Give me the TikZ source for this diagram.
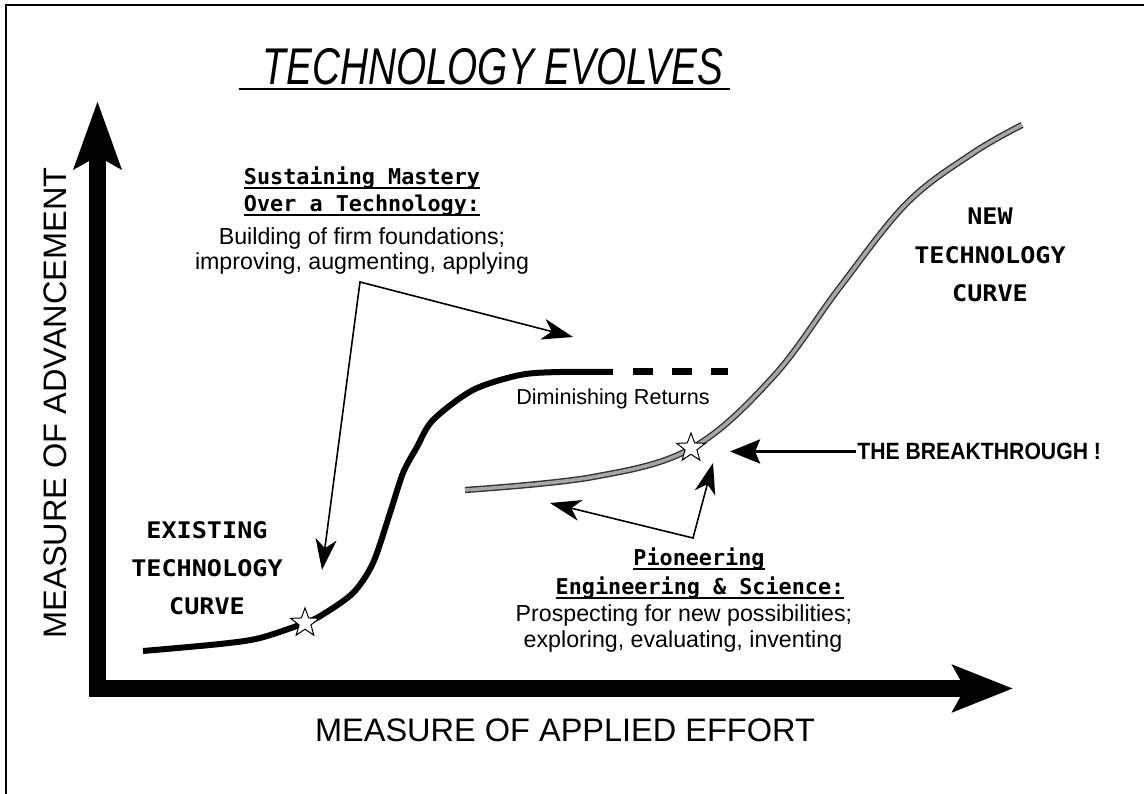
\documentclass[tikz,border=0pt]{standalone}
\usepackage{fontspec}
\setmainfont{Liberation Sans}
\newfontfamily\titlefont[FakeStretch=0.75]{Liberation Sans}
\newfontfamily\headfont{DejaVu Sans Mono}
\newfontfamily\curvefont[FakeStretch=1.1]{DejaVu Sans Mono}
\newfontfamily\breakfont[FakeStretch=0.9]{Liberation Sans}
\usetikzlibrary{arrows.meta,shapes.geometric,calc}

\newlength{\px}
\setlength{\px}{0.2mm}

\newcommand{\undr}[1]{\setbox0\hbox{#1}\rlap{\rule[-4\px]{\wd0}{2\px}}\box0}

\tikzset{
  axis/.style={line width=17\px, line join=miter,
    arrows={Stealth[length=38.1pt,width=26.2pt,inset=6.8pt]-Stealth[length=34.1pt,width=26.2pt,inset=6.8pt]}},
  oldcurve/.style={line width=6\px},
  newcurve/.style={draw=black!80, double=black!35, double distance=3.5\px, line width=1.4\px},
  pointer/.style={line width=1.6\px,
    arrows={Stealth[length=17.6pt,width=12pt,inset=5.1pt]-Stealth[length=17.6pt,width=12pt,inset=5.1pt]}},
  bigpointer/.style={line width=3\px, arrows={-Stealth[length=17.1pt,width=13.7pt,inset=2.8pt]}},
  starmark/.style={star, star points=5, star point ratio=2.4, draw, line width=1\px,
    fill=white, minimum size=30\px, inner sep=0pt},
  titletext/.style={font=\titlefont\itshape\fontsize{29.4}{34}\selectfont, inner sep=0pt, anchor=base},
  axislabel/.style={font=\fontsize{18.5}{22}\selectfont, inner sep=0pt},
  headtext/.style={font=\headfont\bfseries\fontsize{12.4}{15}\selectfont, inner sep=0pt, anchor=base},
  bodytext/.style={font=\fontsize{13.2}{16}\selectfont, inner sep=0pt, anchor=base},
  curvetext/.style={font=\curvefont\bfseries\fontsize{13}{21.8}\selectfont, align=center, inner sep=0pt},
  breaktext/.style={font=\breakfont\bfseries\fontsize{13.4}{16}\selectfont, inner sep=1\px}
}

\begin{document}
\begin{tikzpicture}
\pgftransformyscale{-1.000000}
\useasboundingbox (0\px,0\px) rectangle (1144\px,794\px);
% frame
\draw[line width=2\px] (1144\px,5\px) -- (6\px,5\px) -- (6\px,794\px);
% title
\node[titletext] (title) at (493\px,85\px) {TECHNOLOGY EVOLVES};
\draw[line width=2.5\px] ($(title.base west)+(-23\px,4\px)$) -- ($(title.base east)+(6\px,4\px)$);
% axes
\coordinate (origin) at (97.5\px,688.5\px);
\coordinate (ytip) at (97.5\px,101\px);
\coordinate (xtip) at (1013\px,688.5\px);
\draw[axis] (ytip) -- (origin) -- (xtip);
\node[axislabel, rotate=90] (ylabel) at (55\px,403\px) {MEASURE OF ADVANCEMENT};
\node[axislabel] (xlabel) at (565\px,730.5\px) {MEASURE OF APPLIED EFFORT};
% existing curve
\draw[oldcurve] plot[smooth, tension=0.5] coordinates {(143\px,651\px) (220\px,644\px)
  (260\px,638\px) (305\px,623\px) (322\px,615\px) (353\px,593\px) (373\px,563\px)
  (390\px,513\px) (403\px,473\px) (417\px,447\px) (433\px,420\px) (473\px,390\px)
  (520\px,375\px) (560\px,372\px) (613\px,372\px)};
\draw[oldcurve, line width=7\px, dash pattern=on 20\px off 19\px] (633\px,372\px) -- (728\px,372\px);
% new curve
\draw[newcurve] plot[smooth, tension=0.6] coordinates {(465\px,490\px) (593\px,477\px)
  (692\px,448\px) (773\px,377\px) (840\px,287\px) (907\px,203\px) (973\px,153\px)
  (1022\px,125\px)};
% stars
\node[starmark] (oldstar) at (305\px,623\px) {};
\node[starmark] (newstar) at (691\px,448\px) {};
% curve names
\node[curvetext] (oldlabel) at (207\px,568\px) {EXISTING\\TECHNOLOGY\\CURVE};
\node[curvetext] (newlabel) at (990\px,255\px) {NEW\\TECHNOLOGY\\CURVE};
\node[bodytext, font=\fontsize{12.3}{15}\selectfont] (diminish) at (613\px,405\px) {Diminishing Returns};
% sustaining
\node[headtext] (sustainhead) at (362\px,185\px) {\undr{Sustaining Mastery}};
\node[headtext] (sustainsub) at (362\px,212\px) {\undr{Over a Technology:}};
\node[bodytext] (sustainbody) at (362\px,245\px) {Building of firm foundations;};
\node[bodytext] (sustainmore) at (362\px,270\px) {improving, augmenting, applying};
\coordinate (sustaincorner) at (360\px,282\px);
\coordinate (sustaintip) at (573\px,337\px);
\coordinate (sustainfoot) at (322\px,570\px);
\draw[pointer] (sustainfoot) -- (sustaincorner) -- (sustaintip);
% pioneering
\node[headtext] (pioneerhead) at (699\px,566\px) {\undr{Pioneering}};
\node[headtext] (pioneersub) at (700\px,595\px) {\undr{Engineering \& Science:}};
\node[bodytext] (pioneerbody) at (684\px,622\px) {Prospecting for new possibilities;};
\node[bodytext] (pioneermore) at (683\px,648\px) {exploring, evaluating, inventing};
\coordinate (pioneercorner) at (693\px,538\px);
\coordinate (pioneertip) at (550\px,503\px);
\coordinate (pioneerup) at (713\px,463\px);
\draw[pointer] (pioneertip) -- (pioneercorner) -- (pioneerup);
% breakthrough
\node[breaktext, anchor=west] (breakthrough) at (856\px,451.5\px) {THE BREAKTHROUGH !};
\coordinate (breakpoint) at (730\px,451.5\px);
\draw[bigpointer] (breakthrough.west) -- (breakpoint);
\end{tikzpicture}
\end{document}
